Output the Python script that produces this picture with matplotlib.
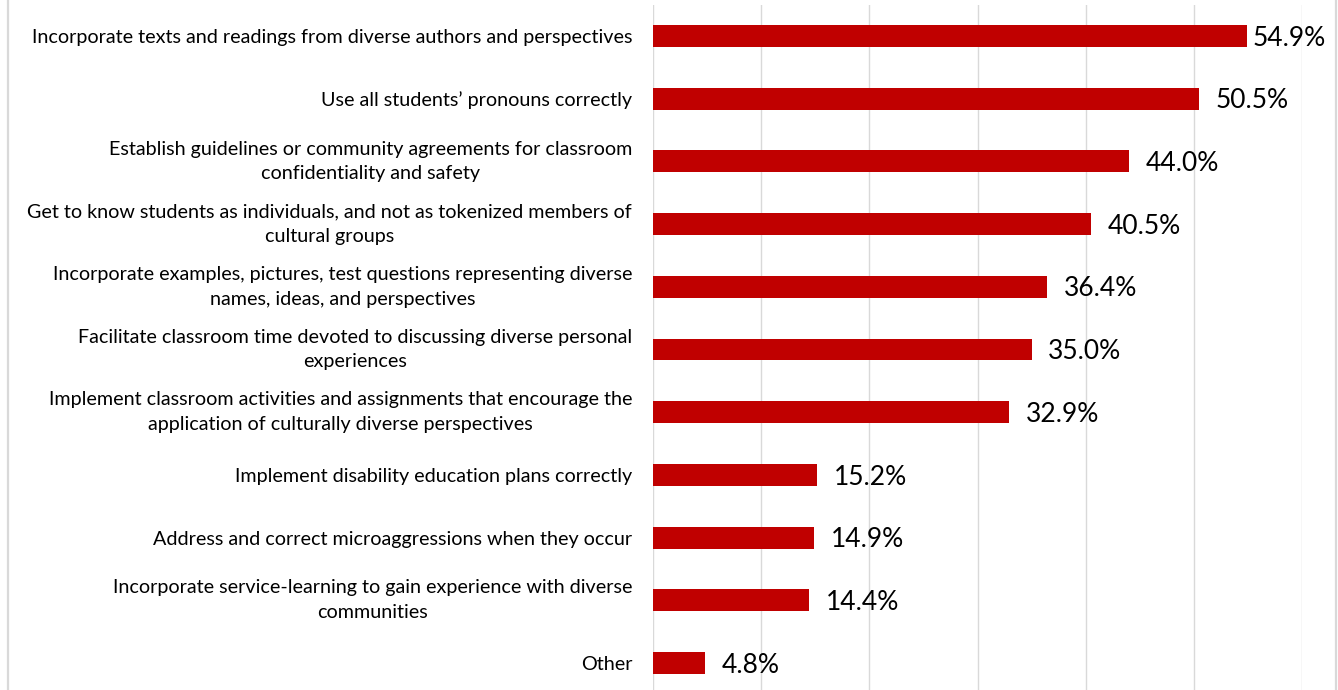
import matplotlib
matplotlib.use("Agg")
import matplotlib.pyplot as plt
from matplotlib.lines import Line2D

categories = [
    "Incorporate texts and readings from diverse authors and perspectives",
    "Use all students\u2019 pronouns correctly",
    "Establish guidelines or community agreements for classroom\nconfidentiality and safety",
    "Get to know students as individuals, and not as tokenized members of\ncultural groups",
    "Incorporate examples, pictures, test questions representing diverse\nnames, ideas, and perspectives",
    "Facilitate classroom time devoted to discussing diverse personal\nexperiences",
    "Implement classroom activities and assignments that encourage the\napplication of culturally diverse perspectives",
    "Implement disability education plans correctly",
    "Address and correct microaggressions when they occur",
    "Incorporate service-learning to gain experience with diverse\ncommunities",
    "Other",
]
values = [54.9, 50.5, 44.0, 40.5, 36.4, 35.0, 32.9, 15.2, 14.9, 14.4, 4.8]
xticks = [0, 10, 20, 30, 40, 50, 60]

plt.rcParams['font.family'] = ['Lato', 'DejaVu Sans']

W, H = 1338, 690
fig = plt.figure(figsize=(W / 100, H / 100), dpi=100)
left_px, right_px = 653, 1302
top_px, bot_px = 4.65, 694.4
ax = fig.add_axes([left_px / W, 1 - bot_px / H, (right_px - left_px) / W, (bot_px - top_px) / H])

y = list(range(len(categories)))
ax.barh(y, values, height=0.35, color="#C00000", zorder=3)
ax.set_xlim(0, 60)
ax.set_ylim(len(categories) - 0.5, -0.5)
ax.set_xticks(xticks)
ax.set_xticklabels([])
ax.tick_params(axis='x', length=0)
ax.grid(axis='x', color="#D9D9D9", linewidth=1.0, zorder=0)
ax.set_yticks(y)
ax.set_yticklabels(categories, fontsize=14.25, multialignment='center', linespacing=1.55)
ax.tick_params(axis='y', length=0, pad=15)
for lbl in ax.get_yticklabels():
    if "\n" in lbl.get_text():
        lbl.set_verticalalignment('center')
for s in ax.spines.values():
    s.set_visible(False)

texts = []
for yi, v in zip(y, values):
    t = ax.annotate(f"{v:.1f}%", xy=(v, yi), xytext=(12, -1.5), textcoords='offset points',
                    ha='left', va='center', fontsize=19, color='black', zorder=4)
    texts.append(t)

fig.canvas.draw()
r = fig.canvas.get_renderer()
for t in texts:
    bb = t.get_window_extent(r)
    limit = 1326
    if bb.x1 > limit:
        shift = (bb.x1 - limit) * 72 / fig.dpi
        ox, oy = t.xyann
        t.xyann = (ox - shift, oy)

# chart-area border (left / right)
fig.add_artist(Line2D([7.5 / W, 7.5 / W], [0, 1], transform=fig.transFigure, color="#D9D9D9", lw=1.6))
fig.add_artist(Line2D([1336 / W, 1336 / W], [0, 1], transform=fig.transFigure, color="#D9D9D9", lw=1.6))

fig.savefig("out.png", dpi=100, facecolor="white")
